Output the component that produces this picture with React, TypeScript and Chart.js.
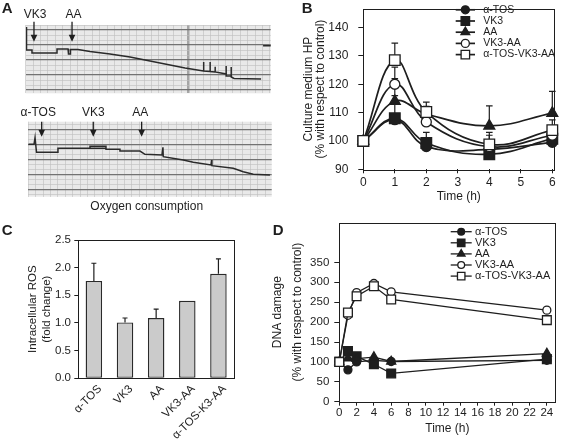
import React, { useEffect, useRef } from 'react';
import { Chart, registerables } from 'chart.js';

Chart.register(...registerables);

const FONT = '"Liberation Sans", Arial, Helvetica, sans-serif';
const INK = '#1e1e1e';

// ---------------- Panel A: oxygen electrode recordings (chart divisions) ----------------
const topTrace: number[][] = [
  [0.11, 0.4], [0.11, 5.0], [0.85, 5.0], [0.85, 5.6], [4.23, 5.6], [4.23, 4.8], [5.72, 4.8],
  [5.78, 5.8], [5.99, 5.8], [6.05, 4.9], [7.07, 4.9], [8.69, 5.3], [11.39, 5.8], [14.09, 6.4],
  [16.12, 7.0], [18.82, 7.8], [21.53, 8.6], [24.03, 9.2], [24.04, 7.4], [24.05, 9.2], [24.9, 9.3],
  [24.91, 7.4], [24.93, 9.3], [25.58, 9.4], [25.59, 8.34], [25.61, 9.4], [27.07, 9.8], [27.08, 8.2],
  [27.09, 10.2], [27.74, 10.2], [27.76, 8.4], [27.77, 10.4], [28.15, 10.7], [31.8, 10.8],
];
const topPenEnd: number[][] = [[32.07, 4.14], [33.15, 4.14]];
const topMarkNames = ['VK3', 'AA'];
const topMarkTimes = [1.12, 6.26];

const bottomTrace: number[][] = [
  [0, 4.02], [0.77, 4.02], [0.91, 2.7], [1.11, 5.62], [4.01, 5.62], [4.01, 4.82], [8.34, 4.82],
  [8.34, 4.42], [10.5, 4.42], [10.5, 5.02], [12.39, 5.02], [12.39, 5.36], [15.09, 5.36],
  [15.77, 6.02], [18.07, 6.16], [18.2, 4.62], [18.24, 6.5], [20.95, 7.16], [22.3, 7.62],
  [24.69, 8.16], [24.78, 7.16], [24.82, 8.3], [27.7, 8.82], [29.05, 9.5], [30.41, 10.02], [32.66, 10.16],
];
const bottomLoopBase: number[][] = [[8.34, 4.82], [10.5, 4.82]];
const bottomMarkNames = ['α-TOS', 'VK3', 'AA'];
const bottomMarkTimes = [1.81, 8.78, 15.32];

// ---------------- Panel B: culture medium HP ----------------
const seriesNames = ['α-TOS', 'VK3', 'AA', 'VK3-AA', 'α-TOS-VK3-AA'];
const timeB = [0, 1, 2, 4, 6];
const hpTOS = [100, 107.5, 98, 97, 99.5];
const hpVK3 = [100, 108, 99.3, 95.3, 100.8];
const hpAA = [100, 114, 109.5, 105.3, 109.8];
const hpVK3AA = [100, 120, 106.7, 98, 102];
const hpAll = [100, 128.5, 110.2, 98.8, 103.8];
const hpTOSErr = [null, null, null, null, null];
const hpVK3Err = [null, 116, 103, null, null];
const hpAAErr = [null, 122, 112.2, 112.4, 117.5];
const hpVK3AAErr = [null, 126, null, 102, null];
const hpAllErr = [null, 134.5, 113.7, 103, 107.4];
const hpTicks = [90, 100, 110, 120, 130, 140];
const timeTicksB = [0, 1, 2, 3, 4, 5, 6];

// ---------------- Panel C: intracellular ROS ----------------
const rosLabels = ['α-TOS', 'VK3', 'AA', 'VK3-AA', 'α-TOS-K3-AA'];
const rosValues = [1.76, 1.01, 1.09, 1.4, 1.89];
const rosErr = [2.08, 1.09, 1.25, null, 2.16];
const rosTicks = [0, 0.5, 1, 1.5, 2, 2.5];

// ---------------- Panel D: DNA damage ----------------
const timeD = [0, 1, 2, 4, 6, 24];
const dnaTOS = [100, 80, 100, 104, 101, 104];
const dnaVK3 = [100, 127, 114, 94, 71, 107];
const dnaAA = [100, 109, 108, 112, 101, 121];
const dnaVK3AA = [100, 217, 274, 297, 276, 230];
const dnaAll = [100, 224, 265, 290, 257, 205];
const dnaTicks = [0, 50, 100, 150, 200, 250, 300, 350];
const timeTicksD = [0, 2, 4, 6, 8, 10, 12, 14, 16, 18, 20, 22, 24];

// ---------------- helpers ----------------
const fixTicks = (vals: number[]) => (s: any) => {
  s.ticks = vals.map((v) => ({ value: v }));
};
const intTicks = (s: any) => {
  const out: any[] = [];
  for (let v = Math.ceil(s.min); v <= Math.floor(s.max); v++) out.push({ value: v });
  s.ticks = out;
};
const fixSize = (size: number) => (s: any) => {
  if (s.isHorizontal()) s.height = size;
  else s.width = size;
  s.paddingLeft = 0;
  s.paddingRight = 0;
  s.paddingTop = 0;
  s.paddingBottom = 0;
};

function drawMarker(ctx: CanvasRenderingContext2D, style: string, x: number, y: number, r: number, fill: string, lw: number) {
  ctx.save();
  ctx.beginPath();
  if (style === 'circle') {
    ctx.arc(x, y, r, 0, Math.PI * 2);
  } else if (style === 'rect') {
    const s = r * Math.SQRT1_2;
    ctx.rect(x - s, y - s, 2 * s, 2 * s);
  } else {
    let a = 0;
    ctx.moveTo(x + Math.sin(a) * r, y - Math.cos(a) * r);
    a += (2 * Math.PI) / 3;
    ctx.lineTo(x + Math.sin(a) * r, y - Math.cos(a) * r);
    a += (2 * Math.PI) / 3;
    ctx.lineTo(x + Math.sin(a) * r, y - Math.cos(a) * r);
    ctx.closePath();
  }
  ctx.fillStyle = fill;
  ctx.fill();
  ctx.lineWidth = lw;
  ctx.strokeStyle = INK;
  ctx.stroke();
  ctx.restore();
}

const framePlugin = () => ({
  id: 'frame',
  beforeDatasetsDraw(chart: any) {
    const { ctx, chartArea: a } = chart;
    ctx.save();
    ctx.strokeStyle = INK;
    ctx.lineWidth = 1;
    ctx.strokeRect(Math.round(a.left) + 0.5, Math.round(a.top) + 0.5, Math.round(a.right - a.left), Math.round(a.bottom - a.top));
    ctx.restore();
  },
});

const paperPlugin = (color: string) => ({
  id: 'paper',
  beforeDraw(chart: any) {
    const { ctx, chartArea: a } = chart;
    ctx.save();
    ctx.fillStyle = color;
    ctx.fillRect(a.left, a.top, a.right - a.left, a.bottom - a.top);
    ctx.restore();
  },
});

const errorBarPlugin = (capHalf: number) => ({
  id: 'errorBars',
  beforeDatasetsDraw(chart: any) {
    const ctx = chart.ctx;
    const ys = chart.scales.y;
    ctx.save();
    ctx.strokeStyle = INK;
    ctx.lineWidth = 1.2;
    chart.data.datasets.forEach((ds: any, di: number) => {
      const err = ds.errorTop;
      if (!err) return;
      const meta = chart.getDatasetMeta(di);
      meta.data.forEach((el: any, i: number) => {
        const e = err[i];
        if (e == null) return;
        const x = el.x;
        const y0 = el.y;
        const y1 = ys.getPixelForValue(e);
        ctx.beginPath();
        ctx.moveTo(x, y0);
        ctx.lineTo(x, y1);
        ctx.moveTo(x - capHalf, y1);
        ctx.lineTo(x + capHalf, y1);
        ctx.stroke();
      });
    });
    ctx.restore();
  },
});

const keyPlugin = (x1: number, x2: number, textX: number, y0: number, dy: number, size: number, markerScale: number) => ({
  id: 'seriesKey',
  afterDraw(chart: any) {
    const ctx = chart.ctx;
    ctx.save();
    chart.data.datasets.forEach((ds: any, i: number) => {
      const y = y0 + i * dy;
      ctx.strokeStyle = INK;
      ctx.lineWidth = ds.borderWidth;
      ctx.beginPath();
      ctx.moveTo(x1, y);
      ctx.lineTo(x2, y);
      ctx.stroke();
      drawMarker(ctx, ds.pointStyle, (x1 + x2) / 2, y, ds.pointRadius * markerScale, ds.pointBackgroundColor, ds.pointBorderWidth);
      ctx.fillStyle = INK;
      ctx.font = `${size}px ${FONT}`;
      ctx.textAlign = 'left';
      ctx.textBaseline = 'middle';
      ctx.fillText(ds.label, textX, y);
    });
    ctx.restore();
  },
});

type TextItem = { text: string; x: number; y: number; size: number; bold?: boolean; align?: CanvasTextAlign; baseline?: CanvasTextBaseline };
const textPlugin = (items: TextItem[]) => ({
  id: 'texts',
  afterDraw(chart: any) {
    const ctx = chart.ctx;
    ctx.save();
    ctx.fillStyle = INK;
    items.forEach((it) => {
      ctx.font = `${it.bold ? 'bold ' : ''}${it.size}px ${FONT}`;
      ctx.textAlign = it.align || 'left';
      ctx.textBaseline = it.baseline || 'alphabetic';
      ctx.fillText(it.text, it.x, it.y);
    });
    ctx.restore();
  },
});

const arrowPlugin = (names: string[], times: number[], shifts: number[], labelY: number, y1: number, y2: number) => ({
  id: 'arrows',
  afterDraw(chart: any) {
    const ctx = chart.ctx;
    const xs = chart.scales.x;
    ctx.save();
    names.forEach((n, i) => {
      const x = xs.getPixelForValue(times[i]);
      ctx.fillStyle = INK;
      ctx.font = `12px ${FONT}`;
      ctx.textAlign = 'center';
      ctx.textBaseline = 'middle';
      ctx.fillText(n, x + shifts[i], labelY);
      ctx.strokeStyle = INK;
      ctx.lineWidth = 1.3;
      ctx.beginPath();
      ctx.moveTo(x, y1);
      ctx.lineTo(x, y2 - 5);
      ctx.stroke();
      ctx.beginPath();
      ctx.moveTo(x - 3.3, y2 - 7);
      ctx.lineTo(x + 3.3, y2 - 7);
      ctx.lineTo(x, y2);
      ctx.closePath();
      ctx.fill();
    });
    ctx.restore();
  },
});

// ---------------- chart builders ----------------
function stripConfig(opts: {
  traces: number[][][];
  xMax: number;
  yMin: number;
  yMax: number;
  padding: any;
  darkLine: number;
  plugins: any[];
}) {
  const minor = '#bdbdbd';
  return {
    type: 'line',
    data: {
      datasets: opts.traces.map((t) => ({
        data: t.map(([x, y]) => ({ x, y })),
        borderColor: '#2a2a2a',
        borderWidth: 1.5,
        pointRadius: 0,
        tension: 0,
      })),
    },
    options: {
      animation: false,
      responsive: false,
      events: [],
      layout: { padding: opts.padding },
      plugins: { legend: { display: false }, tooltip: { enabled: false } },
      scales: {
        x: {
          type: 'linear',
          min: 0,
          max: opts.xMax,
          afterBuildTicks: intTicks,
          afterFit: fixSize(0),
          ticks: { display: false },
          border: { display: false },
          grid: {
            drawTicks: false,
            color: (c: any) => (c.tick && c.tick.value === opts.darkLine ? '#a5a5a5' : minor),
            lineWidth: (c: any) => (c.tick && c.tick.value === opts.darkLine ? 2.5 : 0.6),
          },
        },
        y: {
          type: 'linear',
          reverse: true,
          min: opts.yMin,
          max: opts.yMax,
          afterBuildTicks: intTicks,
          afterFit: fixSize(0),
          ticks: { display: false },
          border: { display: false },
          grid: {
            drawTicks: false,
            color: (c: any) => (c.tick && c.tick.value % 3 === 1 ? '#727272' : minor),
            lineWidth: (c: any) => (c.tick && c.tick.value % 3 === 1 ? 1.2 : 0.6),
          },
        },
      },
    },
    plugins: [paperPlugin('#e9e9e9'), ...opts.plugins],
  };
}

function buildTopStrip() {
  return stripConfig({
    traces: [topTrace, topPenEnd],
    xMax: 33.1,
    yMin: 0,
    yMax: 13.66,
    padding: { left: 25.7, top: 25, right: 9.3, bottom: 6.7 },
    darkLine: 22,
    plugins: [
      arrowPlugin(topMarkNames, topMarkTimes, [1, 1.5], 15, 21.7, 41.7),
      textPlugin([{ text: 'A', x: 1.7, y: 12.7, size: 15, bold: true }]),
    ],
  });
}

function buildBottomStrip() {
  return stripConfig({
    traces: [bottomTrace, bottomLoopBase],
    xMax: 32.9,
    yMin: -0.5,
    yMax: 14.5,
    padding: { left: 28.3, top: 21.7, right: 8.3, bottom: 18.3 },
    darkLine: -99,
    plugins: [
      arrowPlugin(bottomMarkNames, bottomMarkTimes, [-3.5, 0, -1.5], 12.7, 21.7, 36.7),
      textPlugin([{ text: 'Oxygen consumption', x: 146.7, y: 106.7, size: 12, align: 'center', baseline: 'middle' }]),
    ],
  });
}

function lineSeries(label: string, xs: number[], ys: number[], err: any[] | null, style: string, filled: boolean, r: number, order: number, lw: number) {
  return {
    label,
    data: xs.map((x, i) => ({ x, y: ys[i] })),
    errorTop: err,
    borderColor: INK,
    borderWidth: lw,
    tension: 0.4,
    pointStyle: style,
    pointRadius: r,
    pointHoverRadius: r,
    pointBackgroundColor: filled ? INK : '#ffffff',
    pointBorderColor: INK,
    pointBorderWidth: 1.3,
    clip: false,
    order,
  };
}

function buildB() {
  const tickFont = { family: FONT, size: 12 };
  return {
    type: 'line',
    data: {
      datasets: [
        lineSeries(seriesNames[0], timeB, hpTOS, hpTOSErr, 'circle', true, 5, 5, 1.7),
        lineSeries(seriesNames[1], timeB, hpVK3, hpVK3Err, 'rect', true, 7.5, 4, 1.7),
        lineSeries(seriesNames[2], timeB, hpAA, hpAAErr, 'triangle', true, 6.3, 3, 1.7),
        lineSeries(seriesNames[3], timeB, hpVK3AA, hpVK3AAErr, 'circle', false, 5, 2, 1.7),
        lineSeries(seriesNames[4], timeB, hpAll, hpAllErr, 'rect', false, 7.5, 1, 1.7),
      ],
    },
    options: {
      animation: false,
      responsive: false,
      events: [],
      layout: { padding: { left: 0, top: 1, right: 6, bottom: 0 } },
      plugins: { legend: { display: false }, tooltip: { enabled: false } },
      scales: {
        x: {
          type: 'linear',
          min: 0,
          max: 6.06,
          afterBuildTicks: fixTicks(timeTicksB),
          afterFit: fixSize(35.7),
          border: { display: false },
          grid: { drawOnChartArea: false, drawTicks: true, tickLength: 4, color: INK, lineWidth: 1 },
          ticks: { font: tickFont, color: INK, padding: 2, maxRotation: 0 },
          title: { display: true, text: 'Time (h)', font: { family: FONT, size: 12 }, color: INK, padding: { top: 0, bottom: 1.1 } },
        },
        y: {
          type: 'linear',
          min: 90,
          max: 146.6,
          afterBuildTicks: fixTicks(hpTicks),
          afterFit: fixSize(83.3),
          border: { display: false },
          grid: { drawOnChartArea: false, drawTicks: true, tickLength: 5, color: INK, lineWidth: 1 },
          ticks: { font: tickFont, color: INK, padding: 10 },
          title: {
            display: true,
            text: ['Culture medium HP', '(% with respect to control)'],
            font: { family: FONT, size: 12, lineHeight: 1 },
            color: INK,
            padding: { top: 23, bottom: 0 },
          },
        },
      },
    },
    plugins: [
      framePlugin(),
      errorBarPlugin(3.3),
      keyPlugin(175.7, 195, 203.3, 9.8, 11.2, 10.5, 0.8),
      textPlugin([{ text: 'B', x: 21.7, y: 13.3, size: 15, bold: true }]),
    ],
  };
}

function buildC() {
  const tickFont = { family: FONT, size: 11.5 };
  return {
    type: 'bar',
    data: {
      labels: rosLabels,
      datasets: [
        {
          data: rosValues,
          errorTop: rosErr,
          backgroundColor: '#cbcbcb',
          borderColor: '#2a2a2a',
          borderWidth: 1.4,
          borderSkipped: false,
          barPercentage: 0.53,
          categoryPercentage: 1,
        },
      ],
    },
    options: {
      animation: false,
      responsive: false,
      events: [],
      layout: { padding: { left: 0, top: 20, right: 16, bottom: 0 } },
      plugins: { legend: { display: false }, tooltip: { enabled: false } },
      scales: {
        x: {
          afterFit: fixSize(66.7),
          border: { display: false },
          grid: { drawOnChartArea: false, drawTicks: false },
          ticks: { font: tickFont, color: INK, padding: 4, minRotation: 45, maxRotation: 45, autoSkip: false, labelOffset: 6 },
        },
        y: {
          type: 'linear',
          min: 0,
          max: 2.5,
          afterBuildTicks: fixTicks(rosTicks),
          afterFit: fixSize(78.3),
          border: { display: false },
          grid: { drawOnChartArea: false, drawTicks: true, tickLength: 4, color: INK, lineWidth: 1 },
          ticks: { font: tickFont, color: INK, padding: 3.3, callback: (v: any) => Number(v).toFixed(1) },
          title: {
            display: true,
            text: ['Intracellular ROS', '(fold change)'],
            font: { family: FONT, size: 11.5, lineHeight: 13.4 / 11.5 },
            color: INK,
            padding: { top: 26.6, bottom: 0 },
          },
        },
      },
    },
    plugins: [framePlugin(), errorBarPlugin(2.5), textPlugin([{ text: 'C', x: 1.7, y: 15, size: 15, bold: true }])],
  };
}

function buildD() {
  const tickFont = { family: FONT, size: 11.5 };
  return {
    type: 'line',
    data: {
      datasets: [
        { ...lineSeries(seriesNames[0], timeD, dnaTOS, null, 'circle', true, 4, 5, 1.3), tension: 0 },
        { ...lineSeries(seriesNames[1], timeD, dnaVK3, null, 'rect', true, 6.2, 4, 1.3), tension: 0 },
        { ...lineSeries(seriesNames[2], timeD, dnaAA, null, 'triangle', true, 5.2, 3, 1.3), tension: 0 },
        { ...lineSeries(seriesNames[3], timeD, dnaVK3AA, null, 'circle', false, 4, 2, 1.3), tension: 0 },
        { ...lineSeries(seriesNames[4], timeD, dnaAll, null, 'rect', false, 6.2, 1, 1.3), tension: 0 },
      ],
    },
    options: {
      animation: false,
      responsive: false,
      events: [],
      layout: { padding: { left: 0, top: 7.6, right: 6.3, bottom: 0 } },
      plugins: { legend: { display: false }, tooltip: { enabled: false } },
      scales: {
        x: {
          type: 'linear',
          min: 0,
          max: 25,
          afterBuildTicks: fixTicks(timeTicksD),
          afterFit: fixSize(43.3),
          border: { display: false },
          grid: { drawOnChartArea: false, drawTicks: true, tickLength: 4, color: INK, lineWidth: 1 },
          ticks: { font: tickFont, color: INK, padding: 0, maxRotation: 0, autoSkip: false },
          title: { display: true, text: 'Time (h)', font: { family: FONT, size: 12 }, color: INK, padding: { top: 0, bottom: 9.5 } },
        },
        y: {
          type: 'linear',
          min: 0,
          max: 450,
          afterBuildTicks: fixTicks(dnaTicks),
          afterFit: fixSize(77.3),
          border: { display: false },
          grid: { drawOnChartArea: false, drawTicks: true, tickLength: 5, color: INK, lineWidth: 1 },
          ticks: { font: tickFont, color: INK, padding: 5 },
          title: {
            display: true,
            text: ['DNA damage', '(% with respect to control)'],
            font: { family: FONT, size: 12, lineHeight: 20 / 12 },
            color: INK,
            padding: { top: 5.5, bottom: 0 },
          },
        },
      },
    },
    plugins: [
      framePlugin(),
      keyPlugin(188.7, 209.7, 213, 16.7, 11.1, 11, 0.85),
      textPlugin([{ text: 'D', x: 10.7, y: 20, size: 15, bold: true }]),
    ],
  };
}

function ChartBox(props: { left: number; top: number; width: number; height: number; build: () => any }) {
  const ref = useRef<HTMLCanvasElement>(null);
  useEffect(() => {
    const chart = new Chart(ref.current as HTMLCanvasElement, props.build());
    return () => chart.destroy();
  }, []);
  return (
    <canvas
      ref={ref}
      width={props.width}
      height={props.height}
      style={{ position: 'absolute', left: props.left, top: props.top, width: props.width, height: props.height }}
    />
  );
}

export default function App() {
  return (
    <div style={{ position: 'fixed', left: 0, top: 0, width: 563, height: 445, background: '#ffffff', overflow: 'hidden' }}>
      <ChartBox left={0} top={0} width={280} height={100} build={buildTopStrip} />
      <ChartBox left={0} top={100} width={280} height={115} build={buildBottomStrip} />
      <ChartBox left={280} top={0} width={283} height={205} build={buildB} />
      <ChartBox left={0} top={220} width={250} height={225} build={buildC} />
      <ChartBox left={262} top={215} width={301} height={230} build={buildD} />
    </div>
  );
}
